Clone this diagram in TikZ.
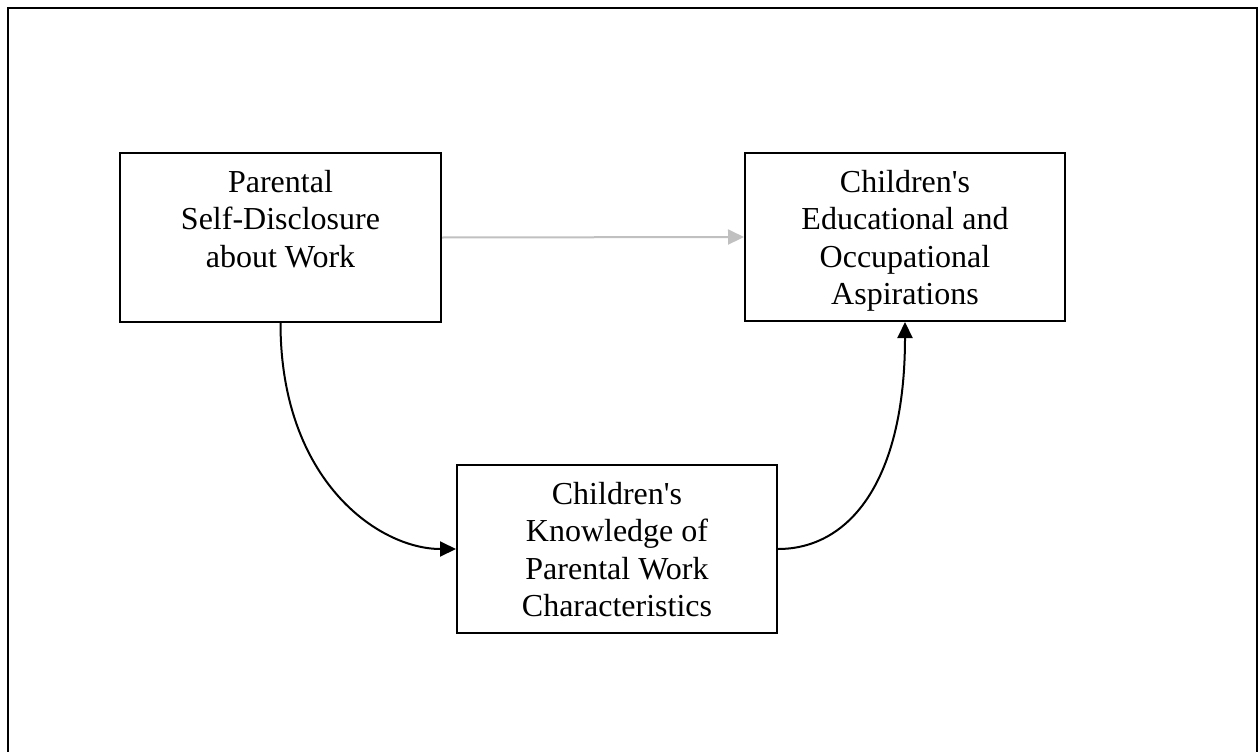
\documentclass[tikz,border=0pt]{standalone}
\usepackage{fontspec}
\setmainfont{Liberation Serif}[Ligatures=TeXOff]
\usetikzlibrary{arrows.meta,calc}
\definecolor{arrowgray}{RGB}{192,192,192}
\begin{document}
\begin{tikzpicture}[x=1pt,y=-1pt,
  box/.style={draw=black, line width=2pt, minimum width=320pt, minimum height=168pt, inner sep=0pt, fill=white},
  txt/.style={anchor=north, align=center, inner sep=0pt, font=\fontsize{32}{37.5}\selectfont},
  link/.style={draw=black, line width=2pt, -{Triangle[length=16pt,width=15pt]}},
  glink/.style={draw=arrowgray, line width=2pt, -{Triangle[length=16pt,width=15pt]}}]
\useasboundingbox (0,0) rectangle (1258,752);
\draw[line width=2.5pt] (8,8) rectangle (1257,780);
\node[box, minimum width=321pt, minimum height=169pt] (p) at (280.5,237.5) {};
\node[box] (a) at (905,237) {};
\node[box] (k) at (617,549) {};
\node[txt] (pt) at ($(p.north)+(0,18)$) {Parental\\Self-Disclosure\\about Work};
\node[txt] (at) at ($(a.north)+(0,18)$) {Children's\\Educational and\\Occupational\\Aspirations};
\node[txt] (kt) at ($(k.north)+(0,18)$) {Children's\\Knowledge of\\Parental Work\\Characteristics};
\draw[glink] (p.east) -- (a.west);
\draw[link] (p.south) .. controls +(0,158) and +(-77,0) .. (k.west);
\draw[link] (k.east) .. controls +(72,0) and +(0,158) .. (a.south);
\end{tikzpicture}
\end{document}
